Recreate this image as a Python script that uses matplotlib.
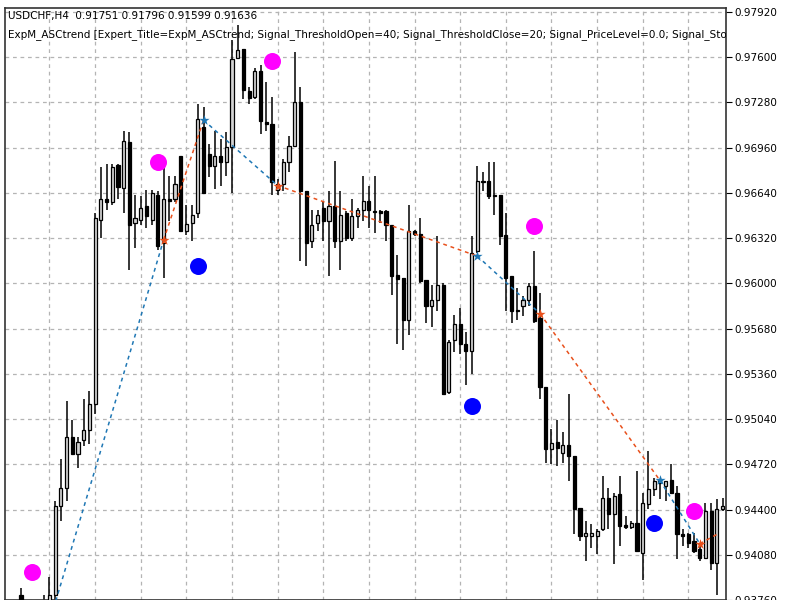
import matplotlib
matplotlib.use("Agg")
import matplotlib.pyplot as plt
from matplotlib.patches import Rectangle
import numpy as np

opens = [0.93793,0.93618,0.93512,0.93442,0.93653,0.93723,0.93793,0.94425,0.94551,0.94916,
0.94790,0.94895,0.94965,0.95148,0.96446,0.96600,0.96579,0.96839,0.96678,0.97000,
0.96425,0.96446,0.96544,0.96446,0.96622,0.96285,0.96600,0.96600,0.96902,0.96369,
0.96425,0.96495,0.97106,0.96916,0.96832,0.96902,0.96860,0.96965,0.97597,0.97660,
0.97358,0.97316,0.97499,0.97141,0.97127,0.96657,0.96706,0.96860,0.96972,0.97281,
0.96650,0.96299,0.96425,0.96530,0.96439,0.96544,0.96299,0.96495,0.96320,0.96474,
0.96516,0.96586,0.96509,0.96509,0.96509,0.96411,0.96060,0.96039,0.95744,0.96369,
0.96348,0.96025,0.95842,0.95885,0.95990,0.95232,0.95597,0.95709,0.95569,0.95520,
0.96229,0.96727,0.96727,0.96622,0.96622,0.96341,0.96053,0.95814,0.95842,0.95885,
0.95983,0.95758,0.95267,0.94825,0.94881,0.94797,0.94853,0.94776,0.94411,0.94214,
0.94214,0.94214,0.94264,0.94481,0.94369,0.94509,0.94292,0.94278,0.94306,0.94095,
0.94439,0.94544,0.94586,0.94565,0.94607,0.94516,0.94228,0.94228,0.94179,0.94123,
0.94060,0.94390,0.94025,0.94404]
highs = [0.93842,0.93758,0.93688,0.93723,0.93793,0.93920,0.94460,0.94755,0.95169,0.95035,
0.94916,0.95183,0.95239,0.96495,0.96825,0.96846,0.96846,0.96846,0.97078,0.97071,
0.96622,0.96615,0.96657,0.96657,0.96650,0.96860,0.96762,0.96762,0.96902,0.96551,
0.96551,0.97267,0.97246,0.96986,0.97078,0.97022,0.97071,0.97723,0.97829,0.97660,
0.97386,0.97527,0.97548,0.97422,0.97316,0.96741,0.96881,0.97043,0.97639,0.97386,
0.96650,0.96516,0.96516,0.96579,0.96650,0.96867,0.96650,0.96509,0.96600,0.96530,
0.96762,0.96692,0.96762,0.96516,0.96516,0.96411,0.96200,0.96039,0.96551,0.96376,
0.96460,0.96025,0.95990,0.96334,0.96004,0.95597,0.95779,0.95828,0.95653,0.96334,
0.96832,0.96790,0.96860,0.96860,0.96622,0.96495,0.96053,0.95969,0.95913,0.96004,
0.96229,0.95934,0.95267,0.94972,0.95035,0.94951,0.95218,0.94776,0.94411,0.94320,
0.94299,0.94264,0.94635,0.94551,0.94516,0.94635,0.94355,0.94320,0.94671,0.94516,
0.94811,0.94621,0.94614,0.94600,0.94720,0.94565,0.94264,0.94235,0.94235,0.94158,
0.94446,0.94446,0.94474,0.94481]
lows = [0.93512,0.93442,0.93372,0.93407,0.93512,0.93583,0.93653,0.94320,0.94460,0.94790,
0.94691,0.94846,0.94867,0.95078,0.96320,0.96516,0.96551,0.96600,0.96495,0.96095,
0.96250,0.96411,0.96390,0.96411,0.96236,0.96039,0.96439,0.96579,0.96369,0.96341,
0.96299,0.96460,0.96636,0.96755,0.96671,0.96692,0.96762,0.96636,0.97597,0.97302,
0.97267,0.97302,0.97057,0.97078,0.96622,0.96622,0.96650,0.96790,0.96965,0.96158,
0.96123,0.96250,0.96369,0.96299,0.96053,0.96250,0.96095,0.96299,0.96299,0.96390,
0.96439,0.96390,0.96355,0.96425,0.96299,0.95920,0.95569,0.95527,0.95632,0.96334,
0.96004,0.95723,0.95688,0.95807,0.95211,0.95218,0.95513,0.95499,0.95281,0.95358,
0.96214,0.96650,0.96600,0.96481,0.96271,0.95807,0.95723,0.95744,0.95772,0.95842,
0.95723,0.95183,0.94727,0.94720,0.94706,0.94727,0.94600,0.94228,0.94179,0.94039,
0.94130,0.94088,0.94250,0.94264,0.94018,0.94144,0.94264,0.94264,0.94109,0.93899,
0.94404,0.94495,0.94474,0.94460,0.94509,0.94053,0.94144,0.94130,0.94095,0.94039,
0.94053,0.93969,0.93793,0.94390]
closes = [0.93618,0.93512,0.93442,0.93653,0.93723,0.93793,0.94425,0.94551,0.94916,0.94790,
0.94881,0.94965,0.95148,0.96460,0.96600,0.96579,0.96825,0.96685,0.97007,0.96411,
0.96460,0.96530,0.96474,0.96636,0.96264,0.96600,0.96586,0.96706,0.96369,0.96418,
0.96481,0.97162,0.96636,0.96832,0.96902,0.96860,0.96965,0.97590,0.97653,0.97365,
0.97309,0.97499,0.97148,0.97127,0.96720,0.96706,0.96860,0.96972,0.97281,0.96650,
0.96285,0.96411,0.96481,0.96439,0.96544,0.96299,0.96481,0.96320,0.96474,0.96516,
0.96586,0.96516,0.96502,0.96495,0.96411,0.96053,0.96032,0.95744,0.96369,0.96348,
0.96018,0.95842,0.95885,0.95990,0.95218,0.95583,0.95709,0.95569,0.95520,0.96214,
0.96727,0.96720,0.96615,0.96615,0.96334,0.96039,0.95807,0.95807,0.95885,0.95983,
0.95737,0.95267,0.94825,0.94874,0.94832,0.94853,0.94776,0.94404,0.94214,0.94235,
0.94235,0.94250,0.94481,0.94369,0.94495,0.94285,0.94278,0.94306,0.94109,0.94446,
0.94544,0.94600,0.94614,0.94600,0.94516,0.94228,0.94214,0.94165,0.94109,0.94060,
0.94390,0.94025,0.94404,0.94425]

sell_idx = [2, 24, 44, 90, 118]
sell_val = [0.93955, 0.96860, 0.97576, 0.96404, 0.94390]
buy_idx = [31, 79, 111]
buy_val = [0.96123, 0.95134, 0.94306]
zz_idx = [5, 25, 32, 45, 80, 91, 112, 119, 122.5]
zz_val = [0.93604, 0.96306, 0.97155, 0.96692, 0.96193, 0.95786, 0.94607, 0.94158, 0.94235]
ytick_vals = [0.97920, 0.97600, 0.97280, 0.96960, 0.96640, 0.96320, 0.96000, 0.95680,
              0.95360, 0.95040, 0.94720, 0.94400, 0.94080, 0.93760]
header1 = "USDCHF,H4  0.91751 0.91796 0.91599 0.91636"
header2 = ("ExpM_ASCtrend [Expert_Title=ExpM_ASCtrend; Signal_ThresholdOpen=40; "
           "Signal_ThresholdClose=20; Signal_PriceLevel=0.0; Signal_StopLevel=50.0]")

fig = plt.figure(figsize=(8, 6), dpi=100)
ax = fig.add_axes([5/800, 0.0, (726-5)/800, 592/600])
ax.set_xlim(-2.8, 123.6)
ax.set_ylim(0.93793, 0.97948)

ax.set_yticks(ytick_vals)
ax.set_yticklabels([f"{v:.5f}" for v in ytick_vals])
ax.yaxis.tick_right()
ax.tick_params(axis='y', length=4, labelsize=7.5, pad=2, direction='out')
ax.set_xticks(np.arange(5, 124, 8))
ax.tick_params(axis='x', length=0, labelbottom=False)
ax.grid(True, color='#b4b4b4', linestyle=(0, (3, 3)), linewidth=0.9)
ax.set_axisbelow(True)
for s in ax.spines.values():
    s.set_color('#333333')
    s.set_linewidth(1.2)

w = 0.55
for i, (o, h, l, c) in enumerate(zip(opens, highs, lows, closes)):
    ax.plot([i, i], [l, h], color='black', lw=1.1, zorder=2, solid_capstyle='butt')
    bull = c >= o
    lo, hi = min(o, c), max(o, c)
    ax.add_patch(Rectangle((i - w/2, lo), w, max(hi - lo, 0.00002),
                           facecolor='#d4d4d4' if bull else 'black',
                           edgecolor='black', lw=0.9, zorder=3))

for j in range(len(zz_idx) - 1):
    col = '#1f77b4' if j % 2 == 0 else '#e8501c'
    ax.plot(zz_idx[j:j+2], zz_val[j:j+2], color=col, lw=1.1,
            linestyle=(0, (2.5, 2.5)), zorder=4)
for j in range(1, len(zz_idx) - 1):
    col = '#e8501c' if j % 2 == 1 else '#1f77b4'
    ax.scatter([zz_idx[j]], [zz_val[j]], marker='*', s=60, color=col, zorder=6,
               linewidths=0)

ax.scatter(sell_idx, sell_val, s=150, color='#ff00ff', zorder=5, linewidths=0)
ax.scatter(buy_idx, buy_val, s=150, color='#0000ff', zorder=5, linewidths=0)

ax.text(0.004, 0.995, header1, transform=ax.transAxes, fontsize=7.5, va='top',
        ha='left', clip_on=True, zorder=7)
ax.text(0.004, 0.965, header2, transform=ax.transAxes, fontsize=7.5, va='top',
        ha='left', clip_on=True, zorder=7)

fig.savefig("out.png", dpi=100)
